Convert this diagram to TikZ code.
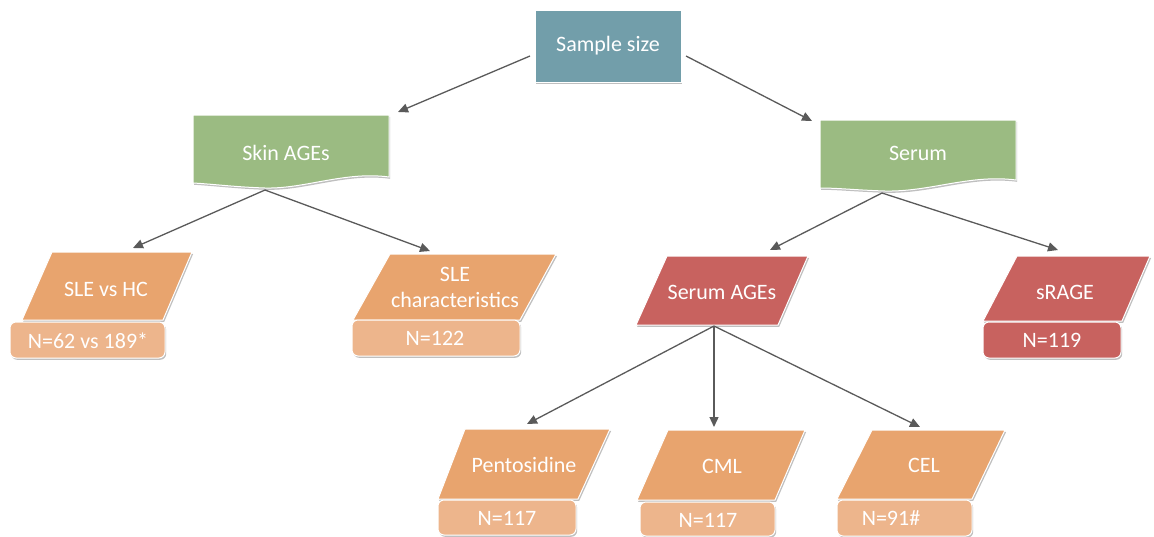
\documentclass[tikz,border=0pt]{standalone}
\usepackage{fontspec}
\setmainfont{Carlito}
\usetikzlibrary{arrows.meta,shadows}
\definecolor{cteal}{HTML}{729EAA}
\definecolor{cgreen}{HTML}{9BBB82}
\definecolor{corange}{HTML}{E8A46E}
\definecolor{clight}{HTML}{EDB58C}
\definecolor{cred}{HTML}{C8625F}
\definecolor{carrow}{HTML}{5A5A5A}
\begin{document}
\begin{tikzpicture}[x=1pt,y=-1pt,
  lbl/.style={text=white, font=\fontsize{22}{26}\selectfont, inner sep=0pt, align=center},
  shp/.style={draw=white, line width=1pt, drop shadow={shadow xshift=1.2pt, shadow yshift=-1.8pt, opacity=0.25, fill=black}},
  nbox/.style={shp, fill=clight, rounded corners=6pt},
  arr/.style={draw=carrow, line width=1.3pt, -{Triangle[length=10pt,width=9pt]}}]
\useasboundingbox (0,0) rectangle (1154,536);

% Sample size
\node[shp, fill=cteal, minimum width=146pt, minimum height=72pt, inner sep=0pt] (ss) at (608,46) {};
\node[lbl] (sst) at (608,46) {Sample size};

% Skin AGEs document shape
\path[shp, fill=cgreen] (193,115) -- (389,115) -- (389,177)
  .. controls (345,171) and (305,189) .. (265,188)
  .. controls (235,187) and (212,184) .. (193,183) -- cycle;
\node[lbl] (skin) at (286,153) {Skin AGEs};

% Serum document shape
\path[shp, fill=cgreen] (820,120) -- (1016,120) -- (1016,180)
  .. controls (970,174) and (930,192) .. (885,191)
  .. controls (855,190) and (838,188) .. (820,188) -- cycle;
\node[lbl] (serum) at (918,153) {Serum};

% SLE vs HC
\path[shp, fill=corange] (52,252) -- (192,252) -- (163,320) -- (22,320) -- cycle;
\node[lbl] (slehc) at (106,289) {SLE vs HC};
\path[nbox] (10,322) rectangle (165,358);
\node[lbl] (n62) at (88,341) {N=62 vs 189*};

% SLE characteristics
\path[shp, fill=corange] (390,254) -- (556,254) -- (520,320) -- (353,320) -- cycle;
\node[lbl] (slech) at (455,287) {SLE\\characteristics};
\path[nbox] (352,320) rectangle (520,356);
\node[lbl] (n122) at (435,338) {N=122};

% Serum AGEs
\path[shp, fill=cred] (667,256) -- (808,256) -- (778,325) -- (636,325) -- cycle;
\node[lbl] (sage) at (722,292) {Serum AGEs};

% sRAGE
\path[shp, fill=cred] (1017,256) -- (1150,256) -- (1122,321) -- (983,321) -- cycle;
\node[lbl] (srage) at (1065,292) {sRAGE};
\path[shp, fill=cred, rounded corners=6pt] (983,322) rectangle (1121,358);
\node[lbl] (n119) at (1052,340) {N=119};

% Pentosidine
\path[shp, fill=corange] (465,429) -- (610,429) -- (578,499) -- (438,499) -- cycle;
\node[lbl] (pent) at (524,465) {Pentosidine};
\path[nbox] (438,500) rectangle (576,535);
\node[lbl] (n117a) at (507,518) {N=117};

% CML
\path[shp, fill=corange] (668,430) -- (805,430) -- (775,500) -- (637,500) -- cycle;
\node[lbl] (cml) at (722,466) {CML};
\path[nbox] (640,502) rectangle (775,536);
\node[lbl] (n117b) at (708,520) {N=117};

% CEL
\path[shp, fill=corange] (872,430) -- (1005,430) -- (972,499) -- (837,499) -- cycle;
\node[lbl] (cel) at (924,465) {CEL};
\path[nbox] (837,500) rectangle (972,536);
\node[lbl] (n91) at (891,518) {N=91\#};

% connector points
\coordinate (ssL) at (530,56);
\coordinate (ssR) at (686,56);
\coordinate (skinT) at (398,112);
\coordinate (serumT) at (812,121);
\coordinate (skinB) at (265,190);
\coordinate (serumB) at (882,193);
\coordinate (slehcT) at (133,248);
\coordinate (slechT) at (430,251);
\coordinate (sageT) at (770,250);
\coordinate (srageT) at (1058,250);
\coordinate (sageB) at (714,326);
\coordinate (pentT) at (527,424);
\coordinate (cmlT) at (714,427);
\coordinate (celT) at (920,427);

\draw[arr] (ssL) -- (skinT);
\draw[arr] (ssR) -- (serumT);
\draw[arr] (skinB) -- (slehcT);
\draw[arr] (skinB) -- (slechT);
\draw[arr] (serumB) -- (sageT);
\draw[arr] (serumB) -- (srageT);
\draw[arr] (sageB) -- (pentT);
\draw[arr] (sageB) -- (cmlT);
\draw[arr] (sageB) -- (celT);
\end{tikzpicture}
\end{document}
